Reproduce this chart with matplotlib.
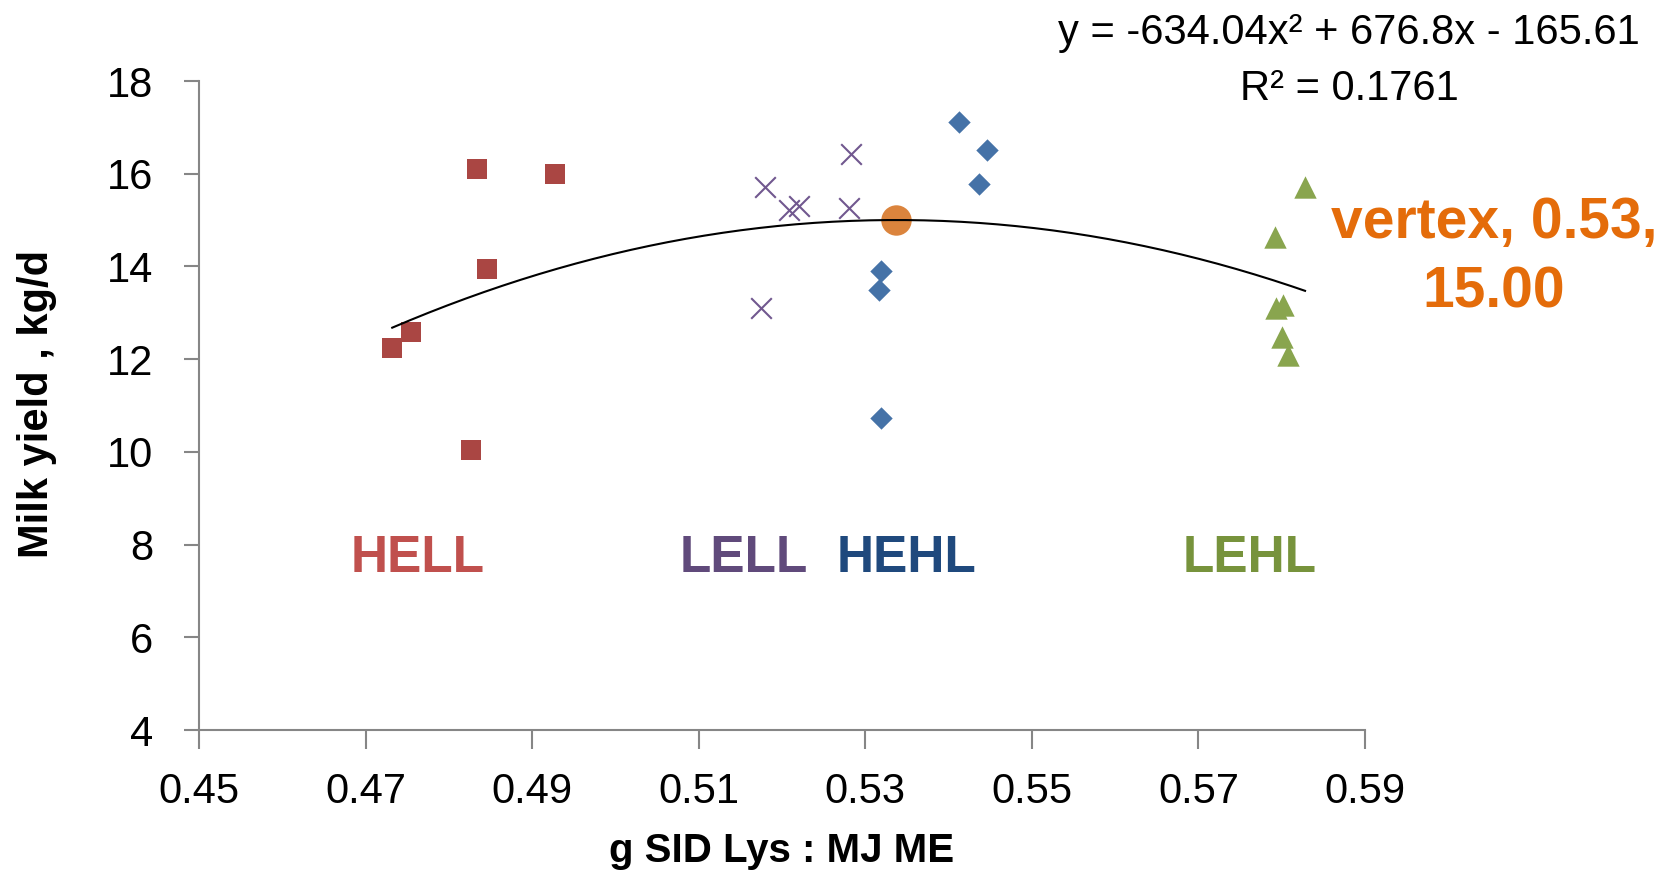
import numpy as np
import matplotlib
matplotlib.use("Agg")
import matplotlib.pyplot as plt

plt.rcParams['font.family'] = ['Liberation Sans', 'DejaVu Sans']

# --- data --------------------------------------------------------------------------------
hell_x = [0.4834, 0.4927, 0.4846, 0.4755, 0.4732, 0.4826]
hell_y = [16.10, 15.99, 13.94, 12.59, 12.25, 10.05]
lell_x = [0.5179, 0.5283, 0.5208, 0.5221, 0.5280, 0.5175]
lell_y = [15.72, 16.42, 15.22, 15.31, 15.27, 13.10]
hehl_x = [0.5412, 0.5446, 0.5436, 0.5319, 0.5317, 0.5319]
hehl_y = [17.11, 16.52, 15.78, 13.91, 13.49, 10.72]
lehl_x = [0.5828, 0.5792, 0.5802, 0.5793, 0.5800, 0.5808]
lehl_y = [15.72, 14.64, 13.17, 13.10, 12.48, 12.09]
vertex_x = [0.5337]
vertex_y = [15.00]
coef = [-634.04, 676.8, -165.61]       # Excel poly trendline, order 2
r2 = 0.1761

group_names = ["HELL", "LELL", "HEHL", "LEHL"]
group_label_x = [0.4763, 0.5154, 0.5350, 0.5762]
group_label_y = 7.70
group_colors = ["#C0504D", "#604A7B", "#1F497D", "#77933C"]

xticks = [0.45, 0.47, 0.49, 0.51, 0.53, 0.55, 0.57, 0.59]
yticks = [4, 6, 8, 10, 12, 14, 16, 18]

fig = plt.figure(figsize=(16.68, 8.71), dpi=100)
ax = fig.add_axes([199 / 1668, 1 - 730 / 871, (1365 - 199) / 1668, (730 - 81) / 871])

ax.scatter(hell_x, hell_y, marker="s", s=200, color="#AA4643", zorder=3, linewidths=0)
ax.scatter(hehl_x, hehl_y, marker="D", s=130, color="#4572A7", zorder=3, linewidths=0)
ax.scatter(lehl_x, lehl_y, marker="^", s=260, color="#89A54E", zorder=3, linewidths=0)
ax.scatter(lell_x, lell_y, marker="x", s=220, color="#71588F", zorder=3, linewidths=1.5)
ax.scatter(vertex_x, vertex_y, marker="o", s=480, color="#DB843D", zorder=3, linewidths=0)

# trendline spans the data range, like Excel draws it
all_x = hell_x + lell_x + hehl_x + lehl_x
xs = np.linspace(min(all_x), max(all_x), 200)
ax.plot(xs, np.polyval(coef, xs), color="black", lw=1.5, zorder=4)

for name, gx, col in zip(group_names, group_label_x, group_colors):
    ax.text(gx, group_label_y, name, color=col, fontsize=37, fontweight="bold",
            ha="center", va="center")

ax.set_xlim(0.45, 0.59)
ax.set_ylim(4, 18)
ax.set_xticks(xticks)
ax.set_yticks(yticks)
ax.set_xticklabels([f"{t:.2f}" for t in xticks])
ax.set_yticklabels([str(t) for t in yticks])
for s in ("top", "right"):
    ax.spines[s].set_visible(False)
for s in ("left", "bottom"):
    ax.spines[s].set_color("#868686")
    ax.spines[s].set_linewidth(1.5)
ax.tick_params(axis="y", direction="out", length=11, width=1.5, color="#868686",
               labelsize=30, pad=22)
ax.tick_params(axis="x", direction="out", length=14, width=1.5, color="#868686",
               labelsize=30, pad=16)

fig.text(37 / 1668, 1 - 404 / 871, "Milk yield , kg/d", rotation=90, fontsize=30,
         fontweight="bold", ha="center", va="center")
fig.text(782 / 1668, 1 - 851 / 871, "g SID Lys : MJ ME", fontsize=29,
         fontweight="bold", ha="center", va="center")

fig.text(1349 / 1668, 1 - 33 / 871,
         f"y = {coef[0]:.2f}x\u00b2 + {coef[1]:.1f}x - {abs(coef[2]):.2f}",
         fontsize=30, ha="center", va="center")
fig.text(1349 / 1668, 1 - 89 / 871, f"R\u00b2 = {r2:.4f}", fontsize=30,
         ha="center", va="center")
fig.text(1494 / 1668, 1 - 223 / 871, f"vertex, {vertex_x[0]:.2f},", fontsize=41,
         fontweight="bold", color="#E46C0A", ha="center", va="center")
fig.text(1494 / 1668, 1 - 293 / 871, f"{vertex_y[0]:.2f}", fontsize=41,
         fontweight="bold", color="#E46C0A", ha="center", va="center")

fig.savefig("out.png", dpi=100)
